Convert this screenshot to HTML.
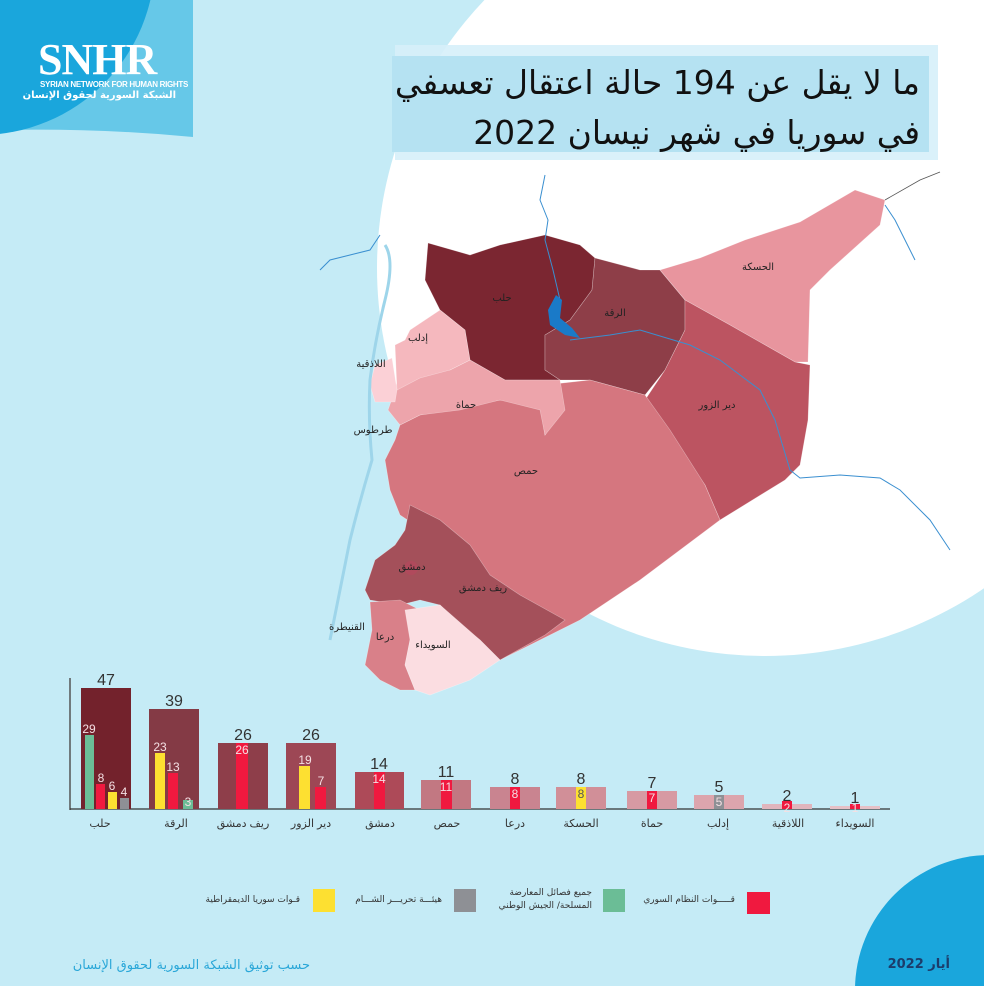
<!DOCTYPE html>
<html><head><meta charset="utf-8">
<style>
*{margin:0;padding:0;box-sizing:border-box}
html,body{width:984px;height:986px;overflow:hidden}
body{background:#c5ebf6;font-family:"Liberation Sans","Noto Sans CJK SC",sans-serif;position:relative}
.t{position:absolute;white-space:nowrap;font-family:"Liberation Sans","DejaVu Sans",sans-serif}
.r{direction:rtl;text-align:right}
.c{text-align:center;transform:translateX(-50%)}
</style></head><body>
<svg width="984" height="986" style="position:absolute;left:0;top:0">
<defs><clipPath id="cl"><rect x="0" y="0" width="193" height="140"/></clipPath></defs>
<circle cx="765" cy="268" r="388" fill="#ffffff"/>
<circle cx="990" cy="990" r="135" fill="#1aa6dc"/>
<path d="M0 0 H193 V137 Q100 128 0 130 Z" fill="#66c8e8"/>
<circle cx="-20" cy="-40" r="175" fill="#1aa6dc" clip-path="url(#cl)"/>
<rect x="395" y="45" width="543" height="115" fill="#d6f0f9" opacity="0.9"/>
<rect x="392" y="56" width="537" height="96" fill="#b5e2f2"/>
<g stroke="#ffffff" stroke-width="0.6" stroke-opacity="0.4">
<path d="M428 243 L470 255 L500 245 L545 235 L580 245 L595 258 L592 290 L570 320 L545 335 L545 370 L560 380 L505 380 L470 360 L465 330 L440 310 L425 280 Z" fill="#7b2631"/>
<path d="M595 258 L640 270 L660 270 L685 300 L685 330 L665 370 L645 395 L590 380 L560 380 L545 370 L545 335 L570 320 L592 290 Z" fill="#8e3e48"/>
<path d="M660 270 L700 258 L745 240 L800 222 L855 190 L885 200 L880 225 L830 270 L810 290 L808 362 L795 362 L730 325 L685 300 Z" fill="#e8959e"/>
<path d="M685 300 L730 325 L795 362 L810 365 L808 420 L800 465 L785 480 L720 520 L705 485 L680 450 L645 400 L665 370 L685 330 Z" fill="#bc5461"/>
<path d="M545 385 L590 380 L645 395 L670 430 L705 485 L720 520 L640 580 L580 620 L500 660 L480 640 L455 610 L430 560 L415 525 L400 515 L390 490 L385 460 L395 440 L400 425 L420 415 L460 408 L500 400 L540 405 L545 435 L560 410 Z" fill="#d5767f"/>
<path d="M400 370 L450 370 L470 360 L505 380 L560 380 L565 410 L545 435 L540 410 L500 400 L460 410 L420 415 L400 425 L388 410 L395 390 Z" fill="#eda4ab"/>
<path d="M410 330 L440 310 L465 330 L470 360 L450 370 L420 378 L397 390 L395 345 L405 340 Z" fill="#f5b8be"/>
<path d="M375 365 L392 358 L397 390 L395 402 L375 402 L370 385 Z" fill="#fbd0d6"/>
<path d="M410 505 L440 520 L470 545 L490 575 L520 595 L565 620 L545 635 L500 660 L480 640 L460 625 L440 605 L420 600 L400 605 L370 600 L365 590 L375 560 L395 545 L405 530 Z" fill="#a4505a"/>
<path d="M370 602 L400 600 L420 610 L410 640 L405 665 L415 690 L400 690 L380 680 L365 665 L372 630 Z" fill="#d98089"/>
<path d="M405 610 L440 605 L480 640 L500 660 L470 680 L430 695 L415 690 L405 665 L410 640 Z" fill="#fbdde1"/>
</g>
<circle cx="411" cy="568" r="7" fill="#b04a5c"/>
<g fill="none" stroke="#3a8fd0" stroke-width="1">
<path d="M545 175 L540 200 L548 220 L545 240 L553 270 L560 300"/>
<path d="M570 340 L610 335 L640 330 L690 345 L720 360 L760 390 L775 420 L790 470 L800 478 L840 475 L880 478 L900 490 L930 520 L950 550"/>
<path d="M885 205 L895 220 L905 240 L915 260"/>
<path d="M380 235 L370 250 L350 255 L330 260 L320 270"/>
</g>
<path d="M556 295 L548 310 L550 325 L565 335 L580 338 L572 328 L560 318 L562 300 Z" fill="#1a7ac8"/>
<path d="M385 245 Q395 260 385 300 Q375 340 370 380 Q368 420 372 460 Q360 500 350 540 Q340 590 330 640" fill="none" stroke="#9ed5ea" stroke-width="3"/>
<path d="M885 200 L920 180 L940 172" fill="none" stroke="#555" stroke-width="0.8"/>
<line x1="70" y1="678" x2="70" y2="810" stroke="#555" stroke-width="1.5"/>
<line x1="70" y1="809" x2="890" y2="809" stroke="#333" stroke-width="1.2"/>
<g>
<rect x="81" y="688" width="50" height="121" fill="#73222c"/>
<rect x="149" y="709" width="50" height="100" fill="#843a45"/>
<rect x="218" y="743" width="50" height="66" fill="#8e3e4a"/>
<rect x="286" y="743" width="50" height="66" fill="#9d4755"/>
<rect x="355" y="772" width="49" height="37" fill="#ad4a58"/>
<rect x="421" y="780" width="50" height="29" fill="#c27882"/>
<rect x="490" y="787" width="50" height="22" fill="#c98490"/>
<rect x="556" y="787" width="50" height="22" fill="#d18f98"/>
<rect x="627" y="791" width="50" height="18" fill="#d79aa3"/>
<rect x="694" y="795" width="50" height="14" fill="#dca5ad"/>
<rect x="762" y="804" width="50" height="5" fill="#e0b5bc"/>
<rect x="830" y="806" width="50" height="3" fill="#e5c0c6"/>
</g>
<g>
<rect x="85" y="735" width="9" height="74" fill="#6bbd96"/>
<rect x="96" y="784" width="9" height="25" fill="#f0193f"/>
<rect x="108" y="792" width="9" height="17" fill="#fde031"/>
<rect x="120" y="798" width="9" height="11" fill="#8e9095"/>
<rect x="155" y="753" width="10" height="56" fill="#fde031"/>
<rect x="168" y="773" width="10" height="36" fill="#f0193f"/>
<rect x="183" y="800" width="10" height="9" fill="#6bbd96"/>
<rect x="236" y="743" width="12" height="66" fill="#f0193f"/>
<rect x="299" y="766" width="11" height="43" fill="#fde031"/>
<rect x="315" y="787" width="11" height="22" fill="#f0193f"/>
<rect x="374" y="772" width="11" height="37" fill="#f0193f"/>
<rect x="441" y="780" width="11" height="29" fill="#f0193f"/>
<rect x="510" y="787" width="10" height="22" fill="#f0193f"/>
<rect x="576" y="787" width="10" height="22" fill="#fde031"/>
<rect x="647" y="791" width="10" height="18" fill="#f0193f"/>
<rect x="714" y="795" width="10" height="14" fill="#8e9095"/>
<rect x="782" y="801" width="10" height="8" fill="#f0193f"/>
<rect x="850" y="804" width="10" height="5" fill="#f0193f"/>
</g>
<g fill="#333" font-family="Liberation Sans,sans-serif" font-size="16" text-anchor="middle">
<text x="106" y="685">47</text><text x="174" y="706">39</text><text x="243" y="740">26</text><text x="311" y="740">26</text><text x="379" y="769">14</text><text x="446" y="777">11</text><text x="515" y="784">8</text><text x="581" y="784">8</text><text x="652" y="788">7</text><text x="719" y="792">5</text><text x="787" y="801">2</text><text x="855" y="803">1</text>
</g>
<g fill="#f4dfe3" font-family="Liberation Sans,sans-serif" font-size="12" text-anchor="middle">
<text x="89" y="733">29</text><text x="101" y="782">8</text><text x="112" y="790">6</text><text x="124" y="796">4</text>
<text x="160" y="751">23</text><text x="173" y="771">13</text><text x="188" y="806">3</text>
<text x="242" y="754">26</text><text x="305" y="764">19</text><text x="321" y="785">7</text>
<text x="379" y="783">14</text><text x="446" y="791">11</text><text x="515" y="798">8</text><text x="581" y="798" fill="#555">8</text><text x="652" y="802">7</text><text x="719" y="806">5</text><text x="787" y="812">2</text><text x="855" y="812">1</text>
</g>
<rect x="747" y="892" width="23" height="22" fill="#f0193f"/>
<rect x="603" y="889" width="22" height="23" fill="#6bbd96"/>
<rect x="454" y="889" width="22" height="23" fill="#8e9095"/>
<rect x="313" y="889" width="22" height="23" fill="#fde031"/>
</svg>

<div class="t" style="left:38px;top:38px;font-family:'Liberation Serif',serif;font-weight:bold;font-size:44px;color:#fff;letter-spacing:-1px;line-height:44px">SNHR</div>
<div class="t" style="left:40px;top:80px;font-size:8px;font-weight:bold;color:#fff;letter-spacing:-0.3px">SYRIAN NETWORK FOR HUMAN RIGHTS</div>
<div class="t r" style="right:808px;top:90px;font-size:10px;font-weight:bold;color:#fff;font-family:'DejaVu Sans',sans-serif">الشبكة السورية لحقوق الإنسان</div>

<div class="t r" style="right:64px;top:58px;font-size:33px;color:#111;line-height:50px;font-family:'DejaVu Sans',sans-serif">ما لا يقل عن 194 حالة اعتقال تعسفي<br>في سوريا في شهر نيسان 2022</div>

<div class="t c" style="left:502px;top:293px;font-size:10px;color:#222;font-family:'DejaVu Sans',sans-serif">حلب</div>
<div class="t c" style="left:615px;top:308px;font-size:10px;color:#222;font-family:'DejaVu Sans',sans-serif">الرقة</div>
<div class="t c" style="left:758px;top:262px;font-size:10px;color:#222;font-family:'DejaVu Sans',sans-serif">الحسكة</div>
<div class="t c" style="left:717px;top:400px;font-size:10px;color:#222;font-family:'DejaVu Sans',sans-serif">دير الزور</div>
<div class="t c" style="left:418px;top:333px;font-size:10px;color:#222;font-family:'DejaVu Sans',sans-serif">إدلب</div>
<div class="t c" style="left:371px;top:359px;font-size:10px;color:#222;font-family:'DejaVu Sans',sans-serif">اللاذقية</div>
<div class="t c" style="left:466px;top:400px;font-size:10px;color:#222;font-family:'DejaVu Sans',sans-serif">حماة</div>
<div class="t c" style="left:373px;top:425px;font-size:10px;color:#222;font-family:'DejaVu Sans',sans-serif">طرطوس</div>
<div class="t c" style="left:526px;top:466px;font-size:10px;color:#222;font-family:'DejaVu Sans',sans-serif">حمص</div>
<div class="t c" style="left:412px;top:562px;font-size:10px;color:#222;font-family:'DejaVu Sans',sans-serif">دمشق</div>
<div class="t c" style="left:483px;top:583px;font-size:10px;color:#222;font-family:'DejaVu Sans',sans-serif">ريف دمشق</div>
<div class="t c" style="left:347px;top:622px;font-size:10px;color:#222;font-family:'DejaVu Sans',sans-serif">القنيطرة</div>
<div class="t c" style="left:385px;top:632px;font-size:10px;color:#222;font-family:'DejaVu Sans',sans-serif">درعا</div>
<div class="t c" style="left:433px;top:640px;font-size:10px;color:#222;font-family:'DejaVu Sans',sans-serif">السويداء</div>

<div style="position:absolute;top:817px;left:0;font-size:11px;color:#333;font-family:'DejaVu Sans',sans-serif">
<div class="t c" style="left:100px">حلب</div>
<div class="t c" style="left:176px">الرقة</div>
<div class="t c" style="left:243px">ريف دمشق</div>
<div class="t c" style="left:311px">دير الزور</div>
<div class="t c" style="left:380px">دمشق</div>
<div class="t c" style="left:447px">حمص</div>
<div class="t c" style="left:515px">درعا</div>
<div class="t c" style="left:581px">الحسكة</div>
<div class="t c" style="left:652px">حماة</div>
<div class="t c" style="left:718px">إدلب</div>
<div class="t c" style="left:788px">اللاذقية</div>
<div class="t c" style="left:855px">السويداء</div>
</div>

<div class="t r" style="right:249px;top:895px;font-size:9px;color:#333;font-family:'DejaVu Sans',sans-serif">قـــــوات النظام السوري</div>
<div class="t r" style="right:392px;top:887px;font-size:9px;color:#333;line-height:13px;font-family:'DejaVu Sans',sans-serif">جميع فصائل المعارضة<br>المسلحة/ الجيش الوطني</div>
<div class="t r" style="right:542px;top:895px;font-size:9px;color:#333;font-family:'DejaVu Sans',sans-serif">هيئـــة تحريـــر الشـــام</div>
<div class="t r" style="right:684px;top:895px;font-size:9px;color:#333;font-family:'DejaVu Sans',sans-serif">قـوات سوريا الديمقراطية</div>

<div class="t r" style="right:674px;top:958px;font-size:13px;color:#2aa7d8;font-family:'DejaVu Sans',sans-serif">حسب توثيق الشبكة السورية لحقوق الإنسان</div>
<div class="t r" style="right:34px;top:957px;font-size:13px;font-weight:bold;color:#1c3d6b;font-family:'DejaVu Sans',sans-serif">أيار 2022</div>
</body></html>
